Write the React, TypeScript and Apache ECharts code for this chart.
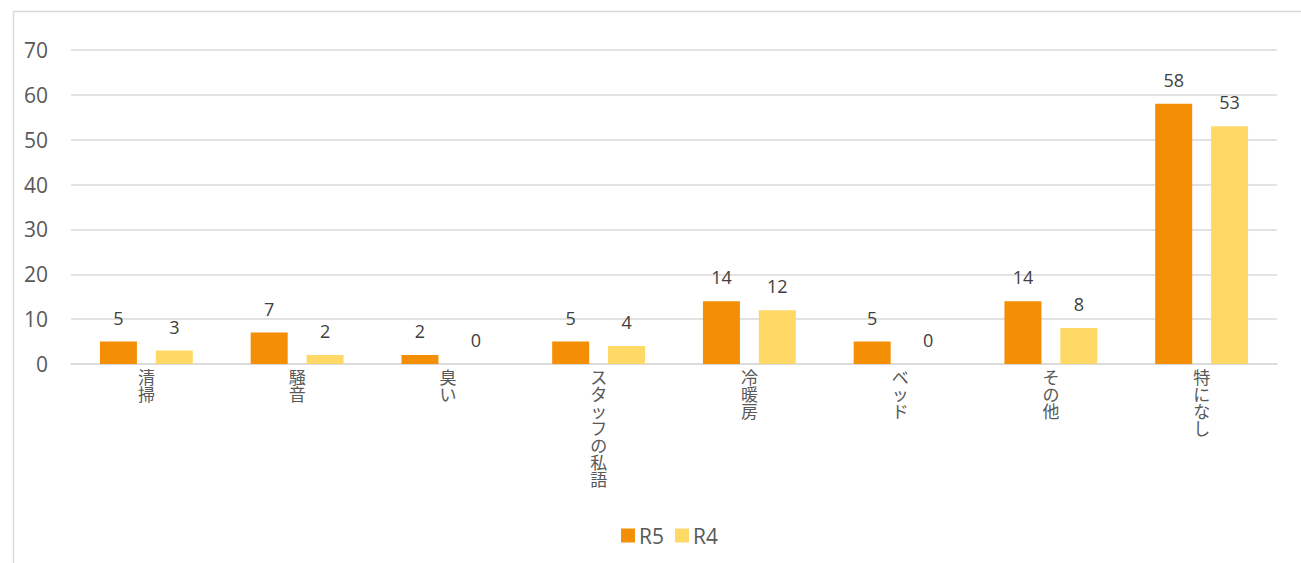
import React, { useEffect, useRef } from "react";
import * as echarts from "echarts";

const categories = ["清掃", "騒音", "臭い", "スタッフの私語", "冷暖房", "ベッド", "その他", "特になし"];
const r5Values = [5, 7, 2, 5, 14, 5, 14, 58];
const r4Values = [3, 2, 0, 4, 12, 0, 8, 53];
const seriesNames = ["R5", "R4"];
const yTicks = { min: 0, max: 70, interval: 10 };

const FONT = "'Open Sans', 'Noto Sans CJK JP', sans-serif";

export default function App() {
  const ref = useRef<HTMLDivElement>(null);
  useEffect(() => {
    document.body.style.margin = "0";
    const chart = echarts.init(ref.current!, undefined, { renderer: "svg" });
    const labelStyle = {
      show: true,
      position: "top" as const,
      distance: 15,
      color: "#404040",
      fontSize: 18,
      fontFamily: FONT,
    };
    chart.setOption({
      animation: false,
      backgroundColor: "#ffffff",
      textStyle: { fontFamily: FONT },
      graphic: [
        {
          type: "rect",
          shape: { x: 13.5, y: 11.5, width: 1400, height: 700 },
          style: { fill: "none", stroke: "#D9D9D9", lineWidth: 1.5 },
          silent: true,
          z: -1,
        },
      ],
      grid: { left: 71, right: 24, top: 50, bottom: 199, containLabel: false },
      legend: {
        data: seriesNames,
        bottom: 12,
        left: 616,
        itemWidth: 14,
        itemHeight: 14,
        itemGap: 11,
        icon: "rect",
        textStyle: { color: "#595959", fontSize: 21, fontFamily: FONT, padding: [0, 0, 0, -1] },
      },
      xAxis: {
        type: "category",
        data: categories,
        axisLine: { show: true, lineStyle: { color: "#D9D9D9", width: 1.5 } },
        axisTick: { show: false },
        axisLabel: {
          interval: 0,
          margin: 5,
          color: "#595959",
          fontSize: 17,
          lineHeight: 17,
          fontFamily: FONT,
          formatter: (v: string) => Array.from(v).join("\n"),
          verticalAlign: "top",
        },
      },
      yAxis: {
        type: "value",
        min: yTicks.min,
        max: yTicks.max,
        interval: yTicks.interval,
        axisLine: { show: false },
        axisTick: { show: false },
        splitLine: { lineStyle: { color: "#D9D9D9", width: 1.5 } },
        axisLabel: { color: "#595959", fontSize: 21, margin: 23, fontFamily: FONT },
      },
      series: [
        {
          name: seriesNames[0],
          type: "bar",
          data: r5Values,
          barWidth: 37,
          barGap: "51%",
          itemStyle: { color: "#F48E04" },
          label: labelStyle,
        },
        {
          name: seriesNames[1],
          type: "bar",
          data: r4Values,
          barWidth: 37,
          itemStyle: { color: "#FFD966" },
          label: labelStyle,
        },
      ],
    });
    return () => chart.dispose();
  }, []);
  return <div ref={ref} style={{ width: 1301, height: 563 }} />;
}
